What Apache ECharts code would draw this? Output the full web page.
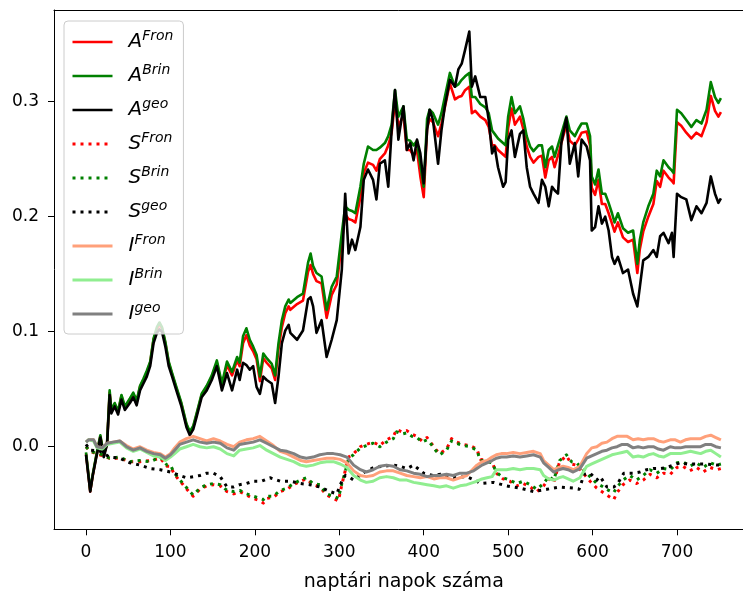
<!DOCTYPE html>
<html>
<head>
<meta charset="utf-8">
<script src="https://cdn.jsdelivr.net/npm/echarts@6/dist/echarts.min.js"></script>
<style>
  html, body { margin: 0; padding: 0; background: #ffffff; }
  #chart { width: 743px; height: 591px; }
</style>
</head>
<body>
<div id="chart"></div>
<script>
// ---- A series: day grid shared by the three A curves ----
const daysA = [
  0, 2, 5, 8, 12, 17, 21, 25, 28, 30,
  34, 38, 42, 46, 52, 56, 60, 64, 68, 72,
  76, 80, 84, 87, 90, 94, 98, 102, 107, 113,
  119, 123, 127, 131, 137, 143, 149, 155, 161, 167,
  173, 179, 182, 186, 190, 194, 198, 202, 206, 210,
  214, 220, 224, 228, 232, 236, 240, 242, 250, 257,
  263, 266, 269, 273, 279, 285, 291, 297, 303, 307,
  311, 315, 319, 325, 329, 334, 340, 344, 348, 354,
  358, 362, 366, 370, 376, 380, 384, 388, 392, 396,
  400, 404, 407, 411, 417, 421, 425, 431, 437, 441,
  445, 449, 454, 457, 461, 467, 473, 477, 481, 484,
  488, 494, 497, 500, 504, 508, 514, 518, 522, 526,
  530, 536, 540, 544, 548, 552, 555, 559, 563, 569,
  573, 579, 583, 587, 593, 597, 599, 603, 607, 611,
  615, 619, 623, 626, 630, 636, 642, 648, 653, 656,
  660, 666, 672, 676, 680, 684, 690, 694, 696, 700,
  705, 711, 717, 723, 729, 735, 740, 745, 749, 752
];
const aFron = [
  -0.006, -0.019, -0.039, -0.025, -0.009, 0.009, -0.008, 0.003, 0.047, 0.031,
  0.037, 0.030, 0.044, 0.034, 0.041, 0.046, 0.039, 0.052, 0.058, 0.064,
  0.073, 0.093, 0.102, 0.106, 0.103, 0.090, 0.073, 0.063, 0.051, 0.037,
  0.019, 0.012, 0.017, 0.028, 0.045, 0.052, 0.061, 0.073, 0.053, 0.071,
  0.062, 0.075, 0.070, 0.090, 0.097, 0.088, 0.083, 0.076, 0.057, 0.077,
  0.073, 0.068, 0.058, 0.085, 0.104, 0.116, 0.122, 0.119, 0.124, 0.127,
  0.152, 0.158, 0.150, 0.144, 0.142, 0.112, 0.132, 0.141, 0.178, 0.202,
  0.198, 0.197, 0.195, 0.217, 0.238, 0.247, 0.245, 0.240, 0.250, 0.255,
  0.262, 0.273, 0.300, 0.279, 0.288, 0.258, 0.258, 0.253, 0.258, 0.235,
  0.217, 0.277, 0.285, 0.282, 0.270, 0.281, 0.295, 0.316, 0.302, 0.304,
  0.305, 0.310, 0.313, 0.290, 0.292, 0.287, 0.284, 0.278, 0.262, 0.262,
  0.258, 0.254, 0.252, 0.277, 0.294, 0.280, 0.287, 0.276, 0.261, 0.252,
  0.247, 0.252, 0.253, 0.234, 0.249, 0.252, 0.243, 0.253, 0.264, 0.280,
  0.266, 0.262, 0.267, 0.273, 0.274, 0.262, 0.225, 0.219, 0.232, 0.211,
  0.211, 0.203, 0.194, 0.187, 0.195, 0.182, 0.178, 0.180, 0.151, 0.172,
  0.187, 0.200, 0.211, 0.231, 0.226, 0.240, 0.234, 0.231, 0.229, 0.282,
  0.279, 0.273, 0.268, 0.273, 0.270, 0.282, 0.305, 0.292, 0.287, 0.291
];
const aBrin = [
  -0.005, -0.018, -0.038, -0.024, -0.008, 0.010, -0.007, 0.004, 0.049, 0.032,
  0.038, 0.031, 0.045, 0.035, 0.042, 0.047, 0.040, 0.053, 0.059, 0.066,
  0.074, 0.094, 0.104, 0.108, 0.104, 0.091, 0.074, 0.064, 0.052, 0.038,
  0.020, 0.013, 0.018, 0.029, 0.046, 0.053, 0.062, 0.075, 0.055, 0.074,
  0.065, 0.078, 0.073, 0.096, 0.103, 0.093, 0.087, 0.080, 0.061, 0.081,
  0.077, 0.072, 0.062, 0.090, 0.110, 0.122, 0.128, 0.125, 0.130, 0.133,
  0.160, 0.168, 0.157, 0.151, 0.148, 0.119, 0.139, 0.148, 0.186, 0.209,
  0.206, 0.205, 0.203, 0.226, 0.246, 0.261, 0.258, 0.258, 0.260, 0.264,
  0.270, 0.280, 0.310, 0.287, 0.296, 0.267, 0.266, 0.262, 0.266, 0.245,
  0.226, 0.285, 0.293, 0.290, 0.280, 0.290, 0.304, 0.325, 0.313, 0.315,
  0.319, 0.322, 0.325, 0.304, 0.304, 0.298, 0.295, 0.290, 0.275, 0.272,
  0.268, 0.264, 0.262, 0.287, 0.304, 0.290, 0.296, 0.285, 0.270, 0.261,
  0.257, 0.262, 0.262, 0.243, 0.258, 0.261, 0.252, 0.262, 0.272, 0.287,
  0.275, 0.270, 0.276, 0.281, 0.281, 0.270, 0.235, 0.228, 0.241, 0.220,
  0.220, 0.212, 0.203, 0.195, 0.203, 0.190, 0.186, 0.188, 0.159, 0.180,
  0.195, 0.209, 0.220, 0.240, 0.235, 0.249, 0.243, 0.240, 0.238, 0.293,
  0.290, 0.284, 0.278, 0.284, 0.281, 0.293, 0.317, 0.304, 0.299, 0.303
];
const aGeo = [
  -0.007, -0.020, -0.039, -0.025, -0.010, 0.008, -0.009, 0.002, 0.045, 0.029,
  0.035, 0.028, 0.041, 0.032, 0.038, 0.043, 0.036, 0.049, 0.055, 0.061,
  0.070, 0.090, 0.099, 0.102, 0.100, 0.087, 0.070, 0.061, 0.049, 0.035,
  0.017, 0.010, 0.015, 0.026, 0.043, 0.049, 0.058, 0.070, 0.049, 0.064,
  0.049, 0.067, 0.058, 0.073, 0.071, 0.067, 0.070, 0.052, 0.046, 0.061,
  0.058, 0.055, 0.038, 0.061, 0.090, 0.101, 0.106, 0.099, 0.093, 0.101,
  0.128, 0.130, 0.122, 0.099, 0.110, 0.078, 0.093, 0.110, 0.154, 0.220,
  0.168, 0.180, 0.171, 0.191, 0.232, 0.241, 0.232, 0.215, 0.246, 0.249,
  0.226, 0.275, 0.310, 0.267, 0.296, 0.258, 0.264, 0.249, 0.267, 0.255,
  0.229, 0.275, 0.293, 0.284, 0.246, 0.275, 0.296, 0.319, 0.313, 0.328,
  0.333, 0.345, 0.361, 0.313, 0.322, 0.304, 0.304, 0.284, 0.255, 0.261,
  0.243, 0.226, 0.230, 0.267, 0.275, 0.252, 0.272, 0.275, 0.243, 0.226,
  0.220, 0.212, 0.232, 0.226, 0.209, 0.226, 0.223, 0.220, 0.264, 0.286,
  0.246, 0.264, 0.235, 0.267, 0.261, 0.249, 0.188, 0.191, 0.209, 0.194,
  0.200, 0.188, 0.165, 0.159, 0.165, 0.151, 0.154, 0.133, 0.122, 0.139,
  0.162, 0.165, 0.171, 0.165, 0.183, 0.186, 0.177, 0.186, 0.165, 0.220,
  0.217, 0.215, 0.197, 0.209, 0.203, 0.212, 0.235, 0.220, 0.212, 0.216
];

// ---- S series (dotted) ----
const daysS = [
  0, 5, 16, 28, 40, 52, 64, 76, 88, 96,
  100, 104, 109, 115, 123, 127, 135, 143, 151, 159,
  167, 175, 182, 190, 198, 206, 210, 214, 222, 230,
  238, 246, 254, 261, 269, 277, 285, 293, 299, 303,
  307, 311, 317, 325, 332, 340, 348, 356, 364, 368,
  374, 380, 386, 392, 398, 404, 409, 415, 419, 427,
  433, 439, 447, 455, 463, 467, 475, 481, 486, 494,
  502, 510, 518, 526, 534, 542, 548, 554, 561, 569,
  575, 581, 589, 597, 605, 613, 619, 625, 629, 636,
  644, 652, 660, 668, 676, 684, 692, 700, 707, 715,
  723, 731, 739, 747, 752
];
const sFron = [
  0.000, -0.004, -0.007, -0.010, -0.010, -0.013, -0.013, -0.012, -0.010, -0.017,
  -0.017, -0.023, -0.028, -0.033, -0.040, -0.043, -0.037, -0.034, -0.033, -0.034,
  -0.039, -0.041, -0.039, -0.042, -0.045, -0.047, -0.049, -0.045, -0.044, -0.039,
  -0.037, -0.033, -0.030, -0.028, -0.033, -0.035, -0.042, -0.045, -0.047, -0.033,
  -0.021, -0.009, -0.006, 0.000, 0.002, 0.004, 0.001, 0.006, 0.009, 0.015,
  0.013, 0.014, 0.011, 0.009, 0.005, 0.008, 0.003, -0.003, -0.006, -0.002,
  0.007, 0.004, 0.002, 0.001, -0.002, -0.011, -0.012, -0.013, -0.023, -0.028,
  -0.030, -0.034, -0.032, -0.035, -0.039, -0.034, -0.028, -0.031, -0.013, -0.008,
  -0.015, -0.016, -0.023, -0.030, -0.036, -0.040, -0.043, -0.046, -0.040, -0.033,
  -0.029, -0.032, -0.029, -0.024, -0.027, -0.023, -0.024, -0.018, -0.017, -0.021,
  -0.018, -0.022, -0.018, -0.020, -0.019
];
const sBrin = [
  0.000, -0.004, -0.006, -0.010, -0.009, -0.013, -0.012, -0.013, -0.009, -0.016,
  -0.016, -0.022, -0.027, -0.032, -0.039, -0.042, -0.036, -0.033, -0.032, -0.033,
  -0.038, -0.039, -0.038, -0.041, -0.043, -0.045, -0.046, -0.043, -0.043, -0.038,
  -0.036, -0.032, -0.029, -0.027, -0.032, -0.033, -0.041, -0.043, -0.045, -0.032,
  -0.022, -0.010, -0.007, -0.001, 0.001, 0.003, 0.000, 0.004, 0.007, 0.013,
  0.011, 0.012, 0.009, 0.008, 0.004, 0.006, 0.002, -0.004, -0.007, -0.003,
  0.005, 0.003, 0.001, 0.000, -0.003, -0.012, -0.013, -0.014, -0.022, -0.027,
  -0.029, -0.032, -0.030, -0.033, -0.037, -0.032, -0.026, -0.029, -0.012, -0.007,
  -0.013, -0.014, -0.020, -0.026, -0.032, -0.035, -0.038, -0.040, -0.035, -0.029,
  -0.025, -0.029, -0.025, -0.020, -0.023, -0.019, -0.020, -0.014, -0.013, -0.017,
  -0.014, -0.018, -0.014, -0.016, -0.015
];
const daysSGeo = [
  0, 5, 17, 28, 40, 52, 64, 76, 88, 100,
  111, 119, 127, 135, 143, 151, 159, 167, 175, 182,
  190, 198, 208, 218, 230, 242, 254, 265, 277, 289,
  297, 303, 307, 313, 317, 330, 341, 352, 364, 372,
  380, 388, 400, 411, 420, 435, 451, 463, 467, 483,
  498, 514, 530, 546, 561, 577, 584, 590, 597, 605,
  609, 617, 625, 629, 637, 648, 656, 664, 672, 680,
  688, 696, 704, 712, 720, 728, 735, 747, 752
];
const sGeo = [
  0.002, -0.003, -0.004, -0.009, -0.010, -0.014, -0.016, -0.019, -0.020, -0.022,
  -0.025, -0.027, -0.026, -0.025, -0.023, -0.023, -0.026, -0.035, -0.035, -0.033,
  -0.032, -0.030, -0.030, -0.027, -0.030, -0.030, -0.032, -0.033, -0.035, -0.039,
  -0.041, -0.030, -0.025, -0.027, -0.029, -0.022, -0.018, -0.017, -0.016, -0.017,
  -0.019, -0.016, -0.023, -0.025, -0.024, -0.027, -0.026, -0.030, -0.032, -0.031,
  -0.034, -0.036, -0.039, -0.037, -0.035, -0.036, -0.037, -0.024, -0.023, -0.029,
  -0.026, -0.035, -0.035, -0.033, -0.023, -0.023, -0.022, -0.020, -0.019, -0.019,
  -0.018, -0.016, -0.014, -0.015, -0.015, -0.015, -0.015, -0.016, -0.016
];

// ---- I series ----
const daysI = [
  0, 3, 9, 13, 19, 25, 32, 40, 48, 56,
  64, 72, 80, 88, 94, 100, 105, 111, 119, 127,
  135, 143, 151, 159, 167, 175, 182, 190, 198, 206,
  214, 222, 230, 238, 246, 254, 261, 269, 277, 285,
  293, 301, 309, 317, 325, 332, 340, 348, 356, 364,
  372, 380, 388, 396, 404, 412, 419, 427, 435, 443,
  451, 459, 463, 469, 475, 481, 486, 492, 498, 506,
  514, 522, 530, 538, 542, 548, 554, 560, 565, 571,
  577, 585, 593, 599, 605, 611, 617, 623, 629, 635,
  641, 648, 654, 660, 666, 672, 678, 684, 692, 698,
  704, 710, 716, 722, 728, 734, 740, 746, 752
];
const iFron = [
  0.004, 0.006, 0.006, 0.000, -0.001, 0.003, 0.004, 0.005, 0.001, -0.002,
  0.000, -0.003, -0.005, -0.006, -0.009, -0.006, -0.001, 0.004, 0.007, 0.009,
  0.007, 0.005, 0.007, 0.005, 0.002, 0.000, 0.004, 0.006, 0.007, 0.009,
  0.005, 0.001, -0.004, -0.006, -0.009, -0.012, -0.013, -0.012, -0.011, -0.010,
  -0.010, -0.011, -0.014, -0.021, -0.025, -0.026, -0.025, -0.022, -0.021, -0.021,
  -0.023, -0.025, -0.026, -0.027, -0.026, -0.028, -0.027, -0.027, -0.029, -0.027,
  -0.025, -0.019, -0.016, -0.013, -0.012, -0.009, -0.007, -0.006, -0.006, -0.005,
  -0.006, -0.005, -0.004, -0.006, -0.012, -0.016, -0.020, -0.018, -0.017, -0.018,
  -0.020, -0.017, -0.006, -0.001, 0.000, 0.003, 0.004, 0.007, 0.009, 0.009,
  0.009, 0.006, 0.007, 0.006, 0.007, 0.007, 0.005, 0.004, 0.006, 0.006,
  0.004, 0.006, 0.007, 0.007, 0.007, 0.009, 0.010, 0.008, 0.006
];
const iBrin = [
  0.004, 0.006, 0.005, -0.001, -0.002, 0.002, 0.003, 0.004, -0.001, -0.004,
  -0.002, -0.005, -0.008, -0.009, -0.012, -0.009, -0.006, -0.002, 0.000, 0.002,
  0.000, -0.001, 0.000, -0.002, -0.006, -0.008, -0.003, -0.002, -0.001, 0.001,
  -0.003, -0.006, -0.009, -0.011, -0.013, -0.016, -0.017, -0.016, -0.014, -0.013,
  -0.013, -0.015, -0.018, -0.025, -0.029, -0.031, -0.030, -0.027, -0.026, -0.027,
  -0.029, -0.029, -0.031, -0.032, -0.033, -0.034, -0.035, -0.034, -0.036, -0.034,
  -0.033, -0.031, -0.030, -0.028, -0.027, -0.026, -0.020, -0.020, -0.020, -0.019,
  -0.020, -0.019, -0.019, -0.020, -0.025, -0.028, -0.029, -0.027, -0.026, -0.028,
  -0.030, -0.027, -0.017, -0.015, -0.013, -0.011, -0.009, -0.007, -0.006, -0.005,
  -0.004, -0.009, -0.008, -0.009, -0.007, -0.006, -0.008, -0.009, -0.006, -0.006,
  -0.006, -0.005, -0.004, -0.005, -0.006, -0.004, -0.003, -0.006, -0.009
];
const iGeo = [
  0.004, 0.006, 0.006, 0.000, -0.001, 0.003, 0.004, 0.005, 0.000, -0.003,
  -0.001, -0.004, -0.006, -0.007, -0.010, -0.007, -0.003, 0.002, 0.004, 0.006,
  0.004, 0.003, 0.004, 0.003, -0.001, -0.003, 0.002, 0.003, 0.004, 0.006,
  0.003, 0.000, -0.003, -0.004, -0.006, -0.009, -0.010, -0.009, -0.007, -0.006,
  -0.006, -0.007, -0.009, -0.016, -0.020, -0.022, -0.020, -0.017, -0.016, -0.017,
  -0.020, -0.021, -0.023, -0.024, -0.026, -0.025, -0.025, -0.024, -0.025, -0.023,
  -0.023, -0.021, -0.019, -0.016, -0.014, -0.012, -0.010, -0.009, -0.009, -0.008,
  -0.009, -0.008, -0.007, -0.009, -0.014, -0.018, -0.022, -0.020, -0.019, -0.020,
  -0.022, -0.019, -0.010, -0.008, -0.006, -0.004, -0.003, -0.001, 0.000, 0.002,
  0.002, -0.001, 0.000, -0.001, 0.000, 0.000, -0.002, -0.003, 0.000, -0.001,
  -0.001, 0.000, 0.000, 0.000, 0.000, 0.002, 0.002, 0.000, -0.001
];

// ---- axis ticks ----
const xTicks = [0, 100, 200, 300, 400, 500, 600, 700];
const yTicks = [0.0, 0.1, 0.2, 0.3];
const xLabel = 'naptári napok száma';

const FONT = 'DejaVu Sans';
const DOT = [3, 5];
const X_MIN = -37.9, X_MAX = 790.6;

const seriesDefs = [
  { name: 'A^Fron', days: daysA, vals: aFron, color: '#ff0000', width: 2.6, dash: 'solid' },
  { name: 'A^Brin', days: daysA, vals: aBrin, color: '#008000', width: 2.6, dash: 'solid' },
  { name: 'A^geo',  days: daysA, vals: aGeo,  color: '#000000', width: 2.6, dash: 'solid' },
  { name: 'S^Fron', days: daysS, vals: sFron, color: '#ff0000', width: 3, dash: DOT },
  { name: 'S^Brin', days: daysS, vals: sBrin, color: '#008000', width: 3, dash: DOT },
  { name: 'S^geo',  days: daysSGeo, vals: sGeo, color: '#000000', width: 3, dash: DOT },
  { name: 'I^Fron', days: daysI, vals: iFron, color: '#ffa07a', width: 3, dash: 'solid' },
  { name: 'I^Brin', days: daysI, vals: iBrin, color: '#90ee90', width: 3, dash: 'solid' },
  { name: 'I^geo',  days: daysI, vals: iGeo,  color: '#808080', width: 3, dash: 'solid' }
];

const chart = echarts.init(document.getElementById('chart'), null, { renderer: 'canvas' });

chart.setOption({
  animation: false,
  backgroundColor: '#ffffff',
  grid: {
    left: 54, top: 10, width: 699.5, height: 519.3,
    outerBoundsMode: 'none',
    containLabel: false,
    show: false
  },
  xAxis: [
    {
      type: 'value',
      min: X_MIN, max: X_MAX,
      name: xLabel,
      nameLocation: 'middle',
      nameGap: 43,
      nameTextStyle: { fontFamily: FONT, fontSize: 19, color: '#000000' },
      axisLine: { show: true, onZero: false, lineStyle: { color: '#000000', width: 1 } },
      axisTick: { show: true, length: 6, lineStyle: { color: '#000000', width: 1 }, customValues: xTicks },
      axisLabel: { customValues: xTicks, margin: 15, fontFamily: FONT, fontSize: 17, color: '#000000' },
      splitLine: { show: false }
    },
    {
      // top frame line
      type: 'value',
      position: 'top',
      min: X_MIN, max: X_MAX,
      axisLine: { show: true, onZero: false, lineStyle: { color: '#000000', width: 1 } },
      axisTick: { show: false },
      axisLabel: { show: false },
      splitLine: { show: false }
    }
  ],
  yAxis: {
    type: 'value',
    min: -0.0718, max: 0.3797,
    axisLine: { show: true, onZero: false, lineStyle: { color: '#000000', width: 1 } },
    axisTick: { show: true, length: 6, lineStyle: { color: '#000000', width: 1 }, customValues: yTicks },
    axisLabel: {
      customValues: yTicks, margin: 15, fontFamily: FONT, fontSize: 17, color: '#000000',
      formatter: v => v.toFixed(1)
    },
    splitLine: { show: false }
  },
  legend: {
    orient: 'vertical',
    left: 64, top: 21,
    padding: [8, 10, 10, 7],
    itemGap: 11,
    itemWidth: 40, itemHeight: 14,
    backgroundColor: 'rgba(255,255,255,0.8)',
    borderColor: '#cccccc', borderWidth: 1, borderRadius: 4,
    itemStyle: { opacity: 0, borderWidth: 0, color: 'transparent' },
    data: seriesDefs.map(d => ({ name: d.name, lineStyle: { width: d.width } })),
    formatter: name => {
      const parts = name.split('^');
      return '{b|' + parts[0] + '}{s|' + parts[1] + '}';
    },
    textStyle: {
      color: '#000000',
      rich: {
        b: { fontFamily: FONT, fontStyle: 'italic', fontSize: 20, lineHeight: 26, color: '#000000', padding: [0, 0, 0, 11] },
        s: { fontFamily: FONT, fontStyle: 'italic', fontSize: 14, lineHeight: 14, verticalAlign: 'top', color: '#000000' }
      }
    },
    selectedMode: false
  },
  series: seriesDefs.map(d => ({
    name: d.name,
    type: 'line',
    xAxisIndex: 0,
    data: d.days.map((day, i) => [day, d.vals[i]]),
    showSymbol: false,
    symbol: 'none',
    silent: true,
    lineStyle: { color: d.color, width: d.width, type: d.dash, cap: 'butt', join: 'round' },
    itemStyle: { color: d.color },
    emphasis: { disabled: true }
  }))
});
</script>
</body>
</html>
